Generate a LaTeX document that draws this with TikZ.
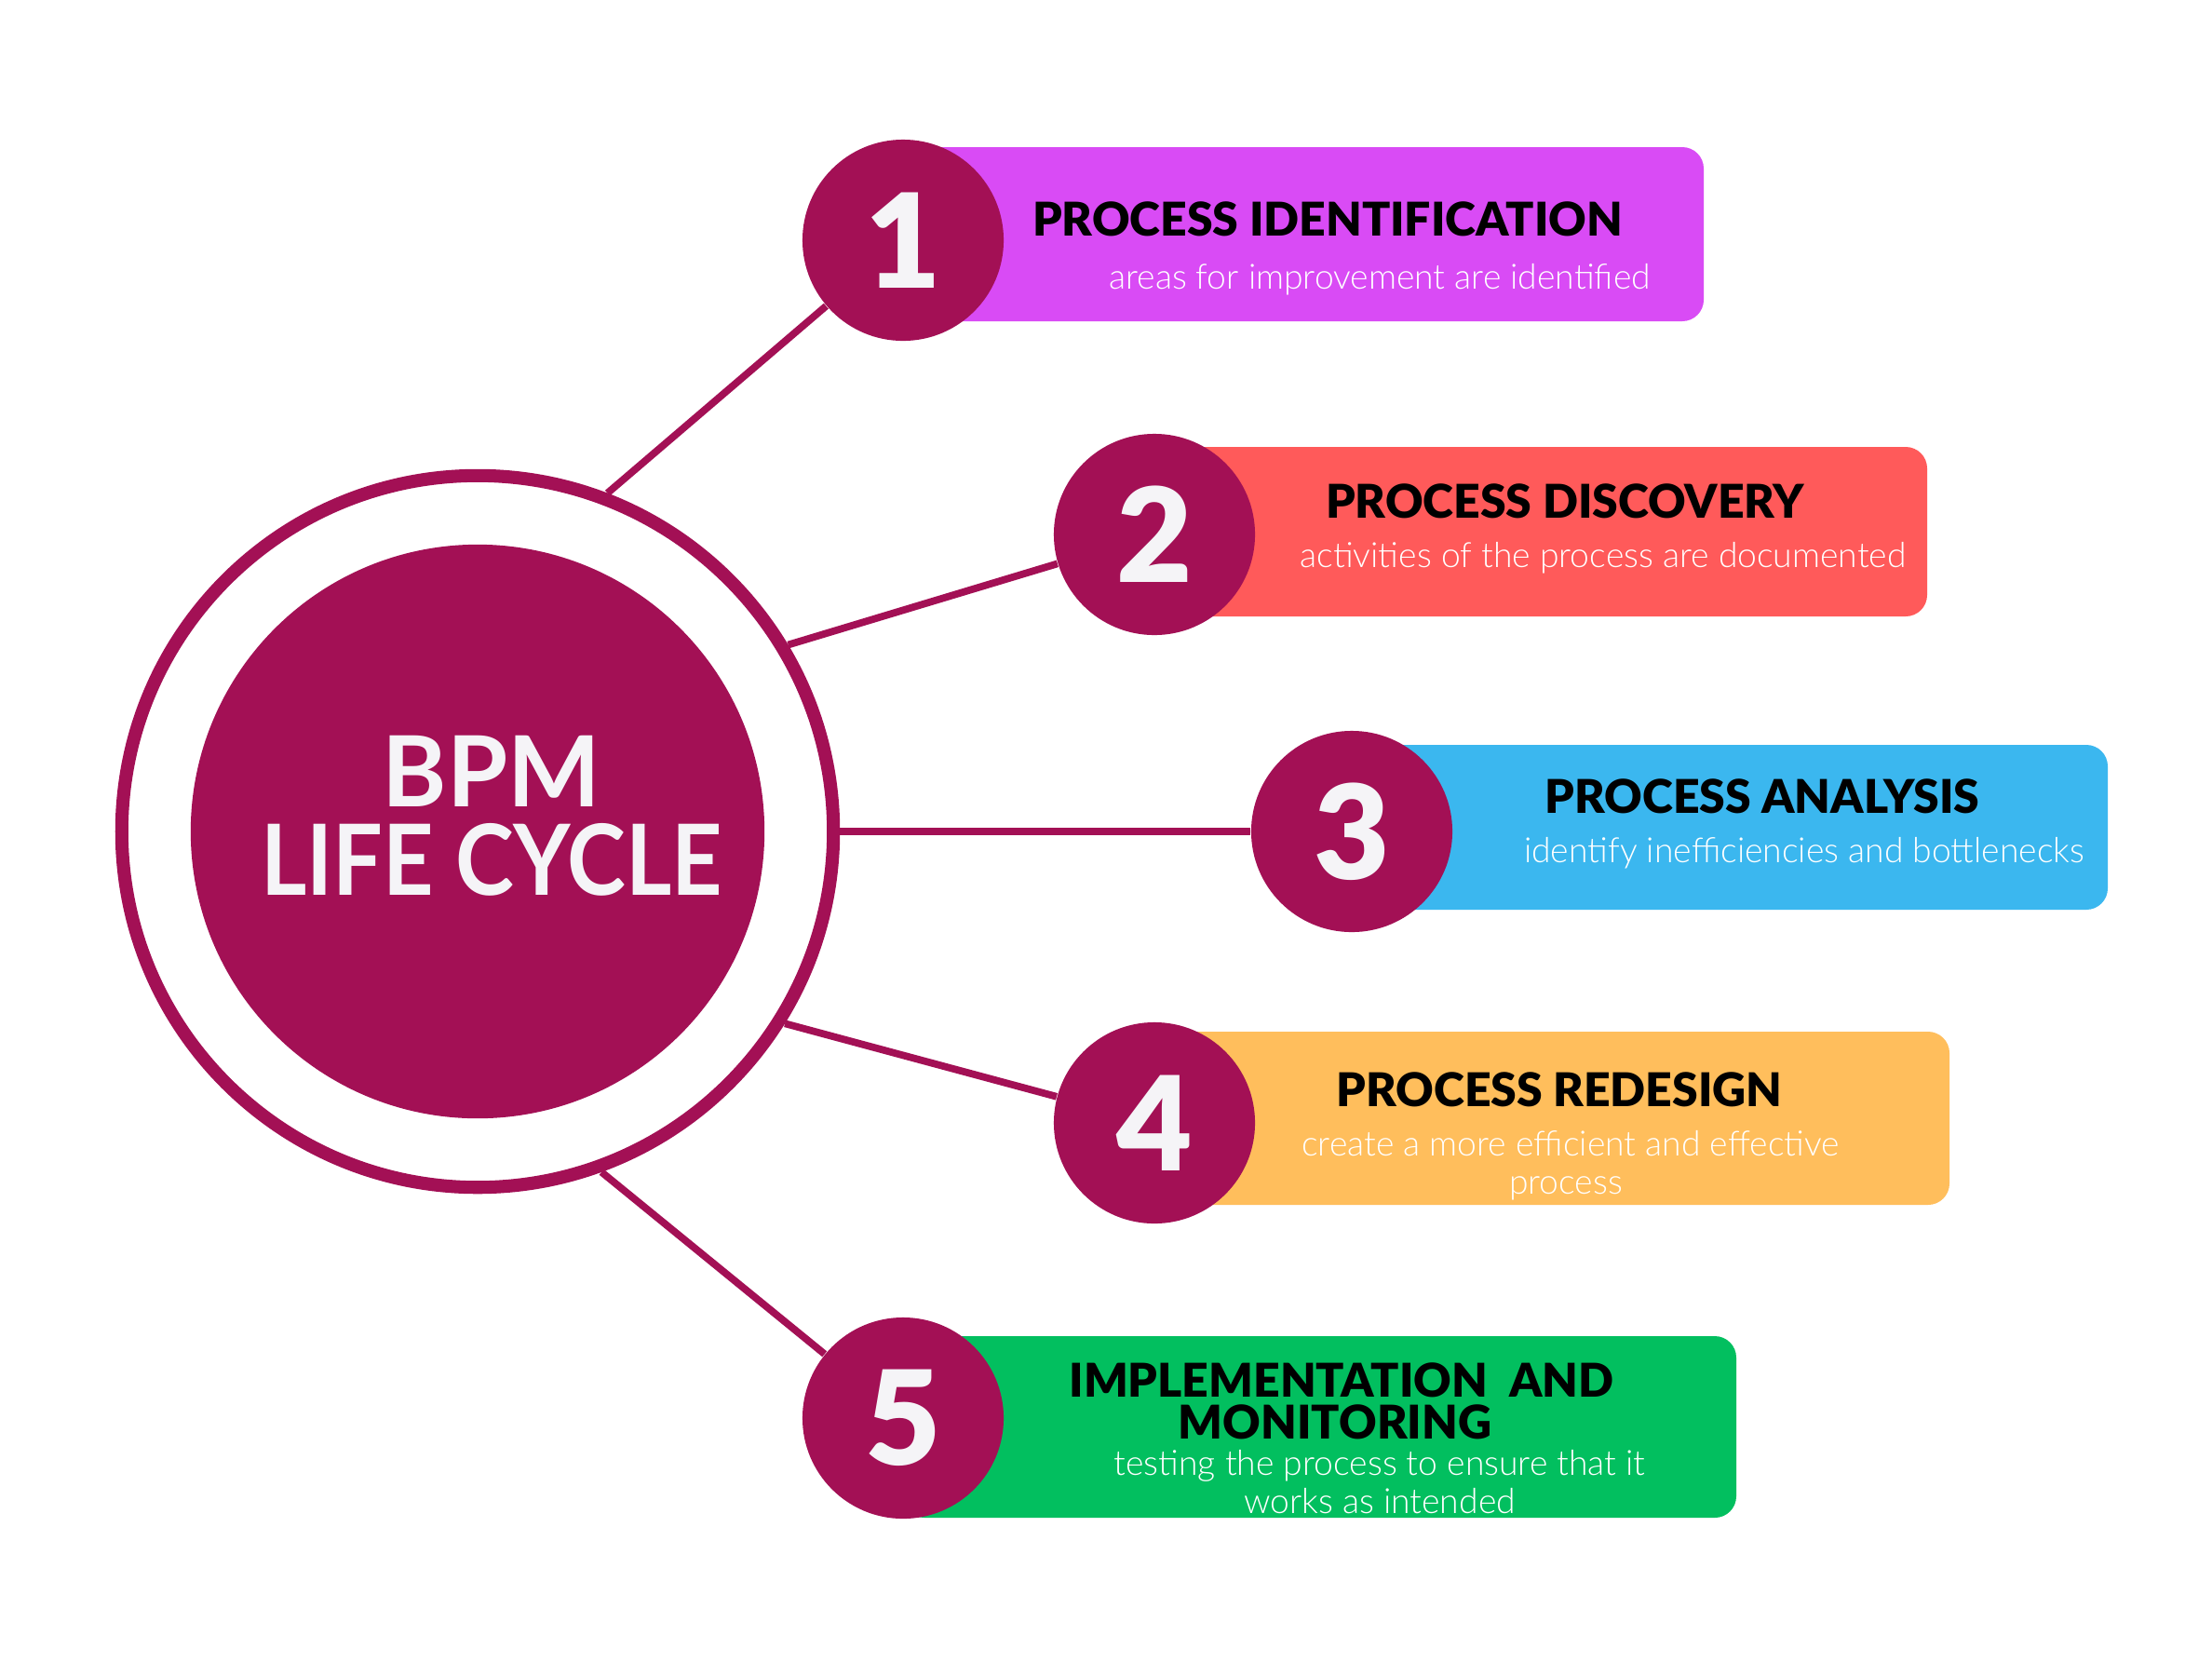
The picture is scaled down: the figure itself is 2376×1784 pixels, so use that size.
\documentclass[tikz,border=0pt]{standalone}
\usepackage{fontspec}
\setmainfont{Lato}
\newfontfamily\headfont{Lato Black}
\newfontfamily\subfont{Lato Light}
\newfontfamily\titlefont{Lato}
\newfontfamily\titlenarrow[FakeStretch=0.9]{Lato}
\definecolor{maroon}{HTML}{A31055}
\definecolor{numwhite}{HTML}{F5F4F7}
\definecolor{bandA}{HTML}{D94BF5}
\definecolor{bandB}{HTML}{FF5A5A}
\definecolor{bandC}{HTML}{3BB7EF}
\definecolor{bandD}{HTML}{FFBE5C}
\definecolor{bandE}{HTML}{02BF5F}
\begin{document}
\begin{tikzpicture}[x=0.01cm,y=-0.01cm,
  conn/.style={line width=2.2pt, draw=maroon},
  numc/.style={circle, fill=maroon, minimum size=2.16cm, inner sep=0pt, text=numwhite, font=\headfont\fontsize{40}{40}\selectfont},
  band/.style={rounded corners=0.23cm},
  head/.style={anchor=base, font=\headfont\fontsize{14.2}{14.2}\selectfont, text=black, inner sep=0pt},
  sub/.style={anchor=base, font=\subfont\fontsize{10.6}{10.6}\selectfont, text=white, inner sep=0pt},
  title/.style={align=center, text=numwhite, inner sep=0pt, font=\bfseries\fontsize{30}{27}\selectfont}]
\path[use as bounding box, fill=white] (0,0) rectangle (2376,1784);

% coloured bands
\fill[band, fill=bandA] (970,158) rectangle (1830,345);
\fill[band, fill=bandB] (1240,480) rectangle (2070,662);
\fill[band, fill=bandC] (1452,800) rectangle (2264,977);
\fill[band, fill=bandD] (1240,1108) rectangle (2094,1294);
\fill[band, fill=bandE] (970,1435) rectangle (1865,1630);

% central ring and core
\node[circle, draw=maroon, line width=4pt, minimum size=7.64cm, inner sep=0pt] (ring) at (513,893) {};
\node[circle, fill=maroon, minimum size=6.16cm, inner sep=0pt] (core) at (513,893) {};
\node[title] (title) at (528,876) {{\titlefont\bfseries BPM}\\{\titlenarrow\bfseries LIFE CYCLE}};

% number circles
\node[numc] (c1) at (970,258) {1};
\node[numc] (c2) at (1240,574) {2};
\node[numc] (c3) at (1452,893) {3};
\node[numc] (c4) at (1240,1206) {4};
\node[numc] (c5) at (970,1523) {5};

% connectors
\draw[conn] (ring.69.6) -- (c1);
\draw[conn] (ring.31.3) -- (c2);
\draw[conn] (ring.0) -- (c3);
\draw[conn] (ring.-32.9) -- (c4);
\draw[conn] (ring.-70.6) -- (c5);

% texts
\node[head] (h1) at (1426,253) {PROCESS IDENTIFICATION};
\node[sub] (s1) at (1482,310) {areas for improvement are identified};
\node[head] (h2) at (1681,556) {PROCESS DISCOVERY};
\node[sub] (s2) at (1722,609) {activities of the process are documented};
\node[head] (h3) at (1893,873) {PROCESS ANALYSIS};
\node[sub] (s3) at (1938,926) {identify inefficiencies and bottlenecks};
\node[head] (h4) at (1675,1188) {PROCESS REDESIGN};
\node[sub] (s4a) at (1687,1241) {create a more efficient and effective};
\node[sub] (s4b) at (1682,1282) {process};
\node[head] (h5a) at (1441,1500) {IMPLEMENTATION\ \ AND};
\node[head] (h5b) at (1434,1545) {MONITORING};
\node[sub] (s5a) at (1482,1584) {testing the process to ensure that it};
\node[sub] (s5b) at (1482,1625) {works as intended};
\end{tikzpicture}
\end{document}
